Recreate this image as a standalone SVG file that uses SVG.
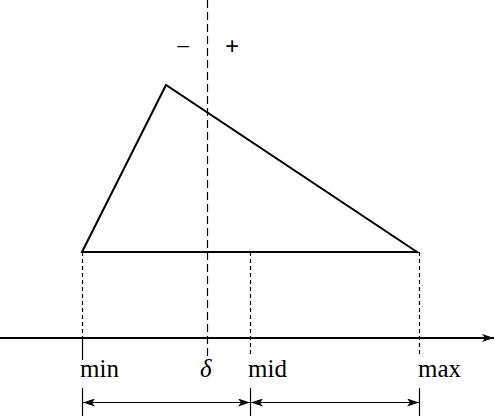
<svg xmlns="http://www.w3.org/2000/svg" width="495" height="416" viewBox="0 0 495 416">
<style>
.s{stroke:#000;fill:none;stroke-width:2}
.d{stroke:#000;fill:none;stroke-width:1.2;stroke-dasharray:4,3}
.t{stroke:#000;fill:none;stroke-width:1.2}
.l{font-family:'Liberation Serif','DejaVu Serif','Times New Roman',serif;font-size:25px;fill:#000}
</style>
<defs>
<marker id="ah" markerWidth="12" markerHeight="8" refX="12" refY="4" orient="auto-start-reverse" markerUnits="userSpaceOnUse">
<path d="M0,0 L12,4 L0,8 L3,4 Z" fill="#000"/>
</marker>
</defs>
<g id="triangle">
<polygon class="s" points="82,252 166,85 417,252"/>
</g>
<g id="connectors">
<line class="d" x1="207.5" y1="0" x2="207.5" y2="360" style="stroke-dasharray:8,4"/>
<line class="d" x1="82.5" y1="252" x2="82.5" y2="338"/>
<line class="d" x1="250.5" y1="252" x2="250.5" y2="356"/>
<line class="d" x1="419.5" y1="252" x2="419.5" y2="356"/>
<line class="t" x1="82.5" y1="338" x2="82.5" y2="360"/>
<line class="s" x1="0" y1="338" x2="494" y2="338" marker-end="url(#ah)"/>
<line class="t" x1="82.5" y1="388" x2="82.5" y2="416"/>
<line class="t" x1="250.5" y1="388" x2="250.5" y2="416"/>
<line class="t" x1="419.5" y1="388" x2="419.5" y2="416"/>
<line class="t" x1="83" y1="402.5" x2="250" y2="402.5" marker-start="url(#ah)" marker-end="url(#ah)"/>
<line class="t" x1="251" y1="402.5" x2="419" y2="402.5" marker-start="url(#ah)" marker-end="url(#ah)"/>
</g>
<g id="labels">
<text class="l" x="80" y="377">min</text>
<text class="l" x="200" y="377" font-style="italic">δ</text>
<text class="l" x="248" y="377">mid</text>
<text class="l" x="418" y="377">max</text>
<text class="l" x="183" y="55" text-anchor="middle">−</text>
<text class="l" x="232" y="55" text-anchor="middle" font-weight="bold">+</text>
</g>
</svg>
